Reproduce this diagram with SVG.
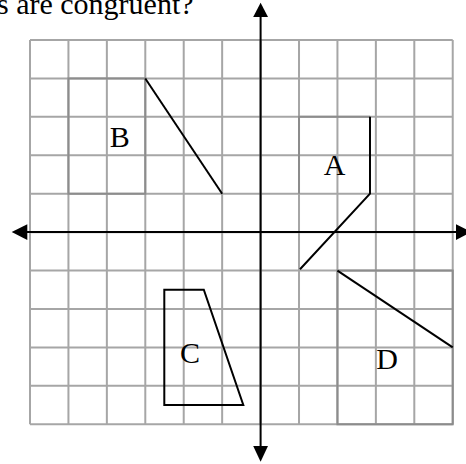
<svg xmlns="http://www.w3.org/2000/svg" width="466" height="464" viewBox="0 0 466 464">
<style>
.grid line{stroke:#a6a6a6;stroke-width:2}
.box{fill:none;stroke:#8c8c8c;stroke-width:2}
.ink{fill:none;stroke:#000;stroke-width:2;stroke-linejoin:miter}
.axis{stroke:#000;stroke-width:2}
.lbl{font-family:"Liberation Serif","Times New Roman",serif;font-size:30px;fill:#000;text-anchor:middle}
.title{font-family:"Liberation Serif","Times New Roman",serif;font-size:30px;fill:#000}
.head{fill:#000}
</style>
<rect width="466" height="464" fill="#fff"/>
<text class="title" x="-3" y="14.3">s are congruent?</text>
<g class="grid" id="grid">
<line x1="30" y1="40" x2="30" y2="424.3"/>
<line x1="68.43" y1="40" x2="68.43" y2="424.3"/>
<line x1="106.86" y1="40" x2="106.86" y2="424.3"/>
<line x1="145.29" y1="40" x2="145.29" y2="424.3"/>
<line x1="183.72" y1="40" x2="183.72" y2="424.3"/>
<line x1="222.15" y1="40" x2="222.15" y2="424.3"/>
<line x1="260.58" y1="40" x2="260.58" y2="424.3"/>
<line x1="299.01" y1="40" x2="299.01" y2="424.3"/>
<line x1="337.44" y1="40" x2="337.44" y2="424.3"/>
<line x1="375.87" y1="40" x2="375.87" y2="424.3"/>
<line x1="414.3" y1="40" x2="414.3" y2="424.3"/>
<line x1="452.73" y1="40" x2="452.73" y2="424.3"/>
<line x1="30" y1="40" x2="452.73" y2="40"/>
<line x1="30" y1="78.43" x2="452.73" y2="78.43"/>
<line x1="30" y1="116.86" x2="452.73" y2="116.86"/>
<line x1="30" y1="155.29" x2="452.73" y2="155.29"/>
<line x1="30" y1="193.72" x2="452.73" y2="193.72"/>
<line x1="30" y1="232.15" x2="452.73" y2="232.15"/>
<line x1="30" y1="270.58" x2="452.73" y2="270.58"/>
<line x1="30" y1="309.01" x2="452.73" y2="309.01"/>
<line x1="30" y1="347.44" x2="452.73" y2="347.44"/>
<line x1="30" y1="385.87" x2="452.73" y2="385.87"/>
<line x1="30" y1="424.3" x2="452.73" y2="424.3"/>
</g>
<g id="axes">
<line class="axis" x1="27" y1="232" x2="457" y2="232"/>
<line class="axis" x1="260.6" y1="16" x2="260.6" y2="447"/>
<polygon class="head" points="260.6,2.7 253.2,17 268,17"/>
<polygon class="head" points="260.6,461.7 253.2,446 268,446"/>
<polygon class="head" points="11.7,232 27.3,224.3 27.3,240"/>
<polygon class="head" points="471.6,232 456,224.3 456,240"/>
</g>
<g id="shapeA">
<polyline class="box" points="370,116.86 299.01,116.86 299.01,193.72"/>
<polyline class="ink" points="370,116.86 370,193.72 300,269.3"/>
<text class="lbl" x="334.5" y="175">A</text>
</g>
<g id="shapeB">
<rect class="box" x="68.43" y="78.43" width="76.86" height="115.29"/>
<line class="ink" x1="145.29" y1="78.43" x2="222.15" y2="193.72"/>
<text class="lbl" x="119.7" y="147">B</text>
</g>
<g id="shapeC">
<polygon class="ink" points="164.3,289.8 203.8,289.8 243.3,405 164.3,405"/>
<text class="lbl" x="190" y="363.3">C</text>
</g>
<g id="shapeD">
<rect class="box" x="337.44" y="270.58" width="115.29" height="153.72"/>
<line class="ink" x1="337.44" y1="270.58" x2="452.73" y2="347.44"/>
<text class="lbl" x="387" y="369.3">D</text>
</g>
</svg>
